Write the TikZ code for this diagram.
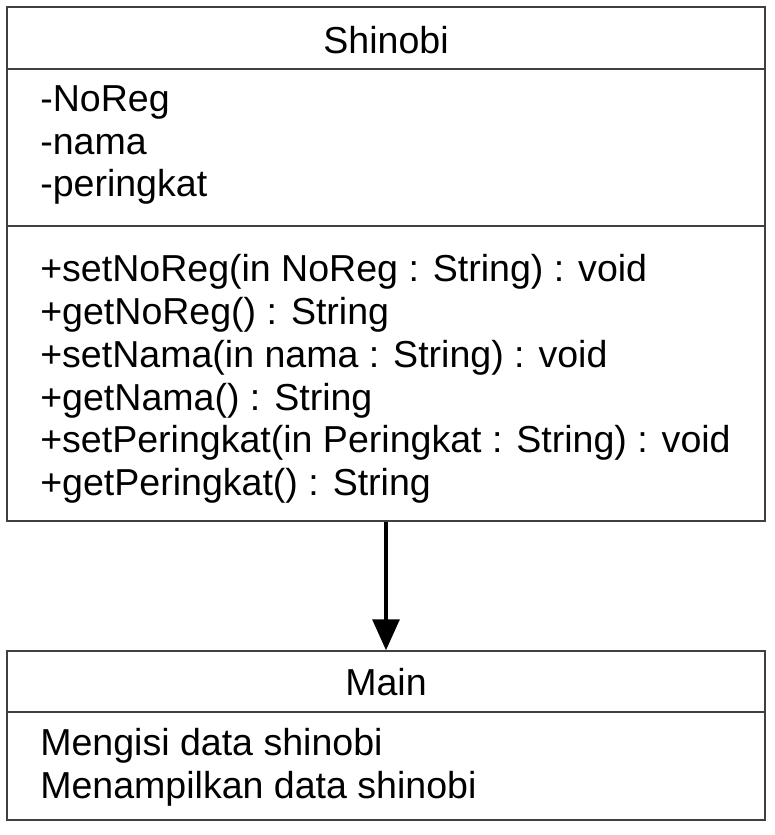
\documentclass[tikz,border=0pt]{standalone}
\usepackage{fontspec}
\setmainfont{Liberation Sans}
\usetikzlibrary{positioning,arrows.meta}

\tikzset{
  classbox/.style={draw=black!75, line width=1pt, minimum width=18.95cm, inner sep=0pt},
  classtext/.style={anchor=west, align=left, inner sep=0pt, font=\fontsize{26.7}{30.4}\selectfont},
  classname/.style={inner sep=0pt, font=\fontsize{26.7}{30.4}\selectfont}
}

\begin{document}
\begin{tikzpicture}[x=0.025cm,y=-0.025cm]
  \useasboundingbox (0,0) rectangle (775,835);

  % class Shinobi
  \node[classbox, minimum height=12.85cm] (shinobi) at (386,264) {};
  \draw[draw=black!75, line width=1pt] (shinobi.west |- 0,69) -- (shinobi.east |- 0,69);
  \draw[draw=black!75, line width=1pt] (shinobi.west |- 0,226) -- (shinobi.east |- 0,226);
  \node[classname] (shinobiname) at (386,40) {Shinobi};
  \node[classtext] (shinobiattr) at (40,145) {-NoReg\\-nama\\-peringkat};
  \node[classtext] (shinobiops) at (40,379) {+setNoReg(in NoReg : String) : void\\
    +getNoReg() : String\\
    +setNama(in nama : String) : void\\
    +getNama() : String\\
    +setPeringkat(in Peringkat : String) : void\\
    +getPeringkat() : String};

  % class Main
  \node[classbox, minimum height=4.225cm] (main) at (386,735.5) {};
  \draw[draw=black!75, line width=1pt] (main.west |- 0,712) -- (main.east |- 0,712);
  \node[classname] (mainname) at (386,682) {Main};
  \node[classtext] (mainops) at (40,767) {Mengisi data shinobi\\Menampilkan data shinobi};

  \draw[-{Triangle[width=19pt,length=22pt]}, line width=2.8pt] (shinobi.south) -- (main.north);
\end{tikzpicture}
\end{document}
